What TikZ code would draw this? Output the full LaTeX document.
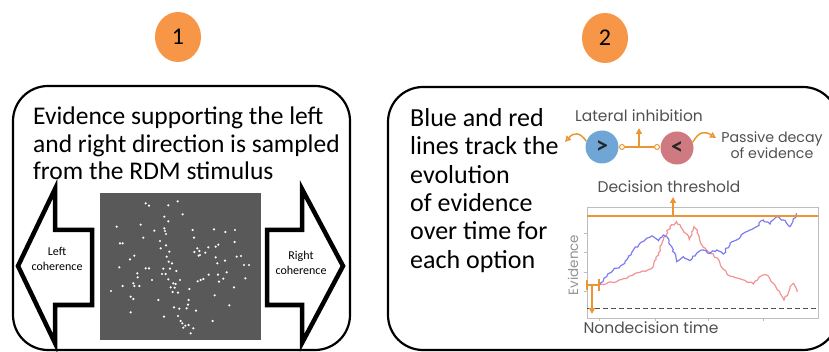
\documentclass[tikz,border=0pt]{standalone}
\usepackage{fontspec}
\setmainfont{Carlito}
\newfontfamily\plotfont{Poppins}
\usetikzlibrary{arrows.meta,shapes.geometric,decorations.pathmorphing}

\definecolor{badge}{HTML}{F79646}
\definecolor{accent}{HTML}{EA9733}
\definecolor{optblue}{HTML}{6FA6D6}
\definecolor{optred}{HTML}{CF7A80}
\definecolor{stim}{HTML}{595959}
\definecolor{trblue}{HTML}{6464F2}
\definecolor{trred}{HTML}{F08080}
\definecolor{labelgrey}{HTML}{505050}
\definecolor{axisgrey}{HTML}{BDBDBD}

\begin{document}
\begin{tikzpicture}[x=1pt,y=-1pt,
  panel/.style={draw=black, line width=2.2pt, rounded corners=35pt, inner sep=0pt},
  badge/.style={ellipse, fill=badge, minimum width=46pt, minimum height=50pt, inner sep=0pt,
    font=\fontsize{24}{24}\selectfont},
  blockarrow/.style={draw=black, line width=4.5pt, fill=white, line join=miter},
  bodytext/.style={anchor=north west, align=left, inner sep=0pt},
  small/.style={align=center, inner sep=0pt, font=\fontsize{12}{15}\selectfont},
  plottext/.style={text=labelgrey, inner sep=0pt, font=\plotfont\fontsize{15.5}{18}\selectfont},
  option/.style={circle, minimum size=33pt, inner sep=0pt, text=black!85,
    font=\fontsize{24}{24}\selectfont\bfseries},
  joint/.style={circle, draw=accent, fill=white, line width=1pt, minimum size=5pt, inner sep=0pt},
  acc/.style={draw=accent, line width=1.5pt},
  tip/.style={-{Triangle[length=6pt,width=6pt]}},
  opentip/.style={-{Triangle[open,length=6pt,width=6pt]}},
  trace/.style={line width=1.2pt, decorate,
    decoration={random steps, segment length=2.5pt, amplitude=1.1pt}},
]
\useasboundingbox (0,0) rectangle (829,352);
\clip (0,0) rectangle (829,352);
\pgfmathsetseed{7}

% step badges
\node[badge] (b1) at (178,37) {1};
\node[badge] (b2) at (605,38) {2};

% panels
\node[panel, minimum width=337pt, minimum height=264pt] (p1) at (181.5,218) {};
\node[panel, minimum width=450pt, minimum height=263pt] (p2) at (613,218.5) {};

% ---- panel 1: stimulus sampling ----
\node[bodytext, font=\fontsize{25.5}{27.5}\selectfont] (t1) at (33,107)
  {Evidence supporting the left\\and right direction is sampled\\from the RDM stimulus};

\draw[blockarrow] (92,230) -- (55,230) -- (55,189) -- (18,266) -- (55,343)
  -- (55,305) -- (92,305) -- cycle;
\draw[blockarrow] (267,230) -- (302,230) -- (302,189) -- (343,266) -- (302,343)
  -- (302,305) -- (267,305) -- cycle;
\node[small] (lc) at (57,259) {Left\\coherence};
\node[small] (rc) at (301,263) {Right\\coherence};

\fill[stim] (100,193) rectangle (261,340);
\begin{scope}[shift={(100,190)}, x=0.3333pt, y=-0.3333pt]
\foreach \a/\b in {137/40,147/47,205/46,233/34,248/73,193/80,205/94,50/110,163/122,
  193/115,195/123,198/132,278/120,342/118,376/126,405/120,130/143,282/143,60/160,
  68/160,180/153,182/175,208/185,292/175,298/183,300/195,296/197,316/188,325/172,
  347/170,355/164,404/156,103/197,90/208,200/200,206/215,216/220,347/202,375/212,
  352/220,423/198,432/225,447/225,58/232,137/235,147/235,190/236,210/236,229/243,
  197/252,112/250,205/268,240/270,156/270,293/274,302/270,310/267,326/254,354/254,
  380/247,370/266,357/275,436/265,68/288,100/280,103/288,118/288,220/280,227/282,
  212/292,224/293,234/308,33/303,268/297,402/292,92/320,100/327,175/330,266/330,
  344/316,264/344,222/352,238/356,260/355,288/362,388/346,92/367,192/380,234/378,
  242/393,247/400,256/407,266/405,250/413,280/415,272/430,338/393,218/306,
  186/252,198/166,283/186,113/262,410/200,122/104}
  \fill[white] (\a,\b) circle[radius=1.2pt];
\end{scope}

% ---- panel 2: accumulator model ----
\node[bodytext, font=\fontsize{26}{28.4}\selectfont] (t2) at (410,108)
  {Blue and red\\lines track the\\evolution\\of evidence\\over time for\\each option};

\node[plottext] (li) at (639,116) {Lateral inhibition};
\node[option, fill=optblue] (ob) at (602,147) {>};
\node[option, fill=optred] (or) at (677,148) {<};
\node[joint] (jb) at (622,147) {};
\node[joint] (jr) at (657,147) {};
\draw[acc] (jb) -- (jr);
\coordinate (mid) at (639,147);
\coordinate (inh) at (639,128);
\draw[acc, tip] (mid) -- (inh);
\coordinate (dl) at (565,142);
\coordinate (dr) at (716,138);
\draw[acc, opentip] (ob.160) .. controls (580,132) and (574,132) .. (dl);
\draw[acc, opentip] (or.20) .. controls (699,131) and (705,131) .. (dr);
\node[plottext, align=center, font=\plotfont\fontsize{14.2}{16.5}\selectfont] (pd) at (772,145)
  {Passive decay\\of evidence};

\node[plottext] (dt) at (669,187) {Decision threshold};

% axes frame and ticks
\draw[axisgrey, line width=0.9pt] (587,207) rectangle (818,318);
\foreach \ty in {233,252,272,291} \draw[axisgrey, line width=0.9pt] (587,\ty) -- (584,\ty);
\foreach \tx in {599,655,708,763} \draw[axisgrey, line width=0.9pt] (\tx,318) -- (\tx,321);

\node[plottext, rotate=90, text=gray!85, font=\plotfont\fontsize{13.5}{15}\selectfont] (ev) at (573,265) {Evidence};
\node[plottext] (nd) at (651,328) {Nondecision time};

% lower bound
\coordinate (lbL) at (587,308);
\coordinate (lbR) at (818,308);
\draw[dashed, dash pattern=on 5pt off 3pt, draw=labelgrey, line width=0.9pt] (lbL) -- (lbR);

% evidence traces
\begin{scope}[shift={(400,80)}, x=0.3333pt, y=-0.3333pt]
\draw[trace, trred, opacity=0.85] (597,615) -- (650,605) -- (700,585) -- (740,572)
  -- (760,560) -- (775,520) -- (790,480) -- (810,440) -- (830,425) -- (850,452)
  -- (868,478) -- (882,440) -- (892,450) -- (902,490) -- (920,510) -- (940,522)
  -- (960,550) -- (980,580) -- (1000,590) -- (1030,600) -- (1060,612) -- (1080,590)
  -- (1100,585) -- (1120,610) -- (1140,640) -- (1152,660) -- (1170,625)
  -- (1180,610) -- (1190,635);
\draw[trace, trblue, opacity=0.85] (597,615) -- (620,590) -- (640,570) -- (660,560)
  -- (680,540) -- (700,510) -- (720,490) -- (740,475) -- (760,470) -- (775,482)
  -- (790,465) -- (800,470) -- (815,500) -- (830,545) -- (850,530) -- (870,542)
  -- (890,520) -- (910,510) -- (930,520) -- (950,510) -- (970,522) -- (990,490)
  -- (1010,480) -- (1030,460) -- (1050,450) -- (1070,440) -- (1090,420)
  -- (1110,432) -- (1130,410) -- (1150,420) -- (1170,440) -- (1190,400);
\end{scope}

% threshold
\coordinate (thL) at (587,216);
\coordinate (thR) at (818,216);
\coordinate (thM) at (673,216);
\coordinate (thU) at (673,197);
\draw[acc, line width=2pt] (thL) -- (thR);
\draw[acc, tip] (thM) -- (thU);

% starting point and nondecision time
\coordinate (s0) at (587,285);
\coordinate (s1) at (599,285);
\coordinate (sd) at (592,285);
\coordinate (se) at (592,314);
\draw[acc] (s0) -- (s1);
\draw[acc] (587,280) -- (587,290);
\draw[acc] (599,279) -- (599,291);
\draw[acc, tip] (sd) -- (se);
\end{tikzpicture}
\end{document}
